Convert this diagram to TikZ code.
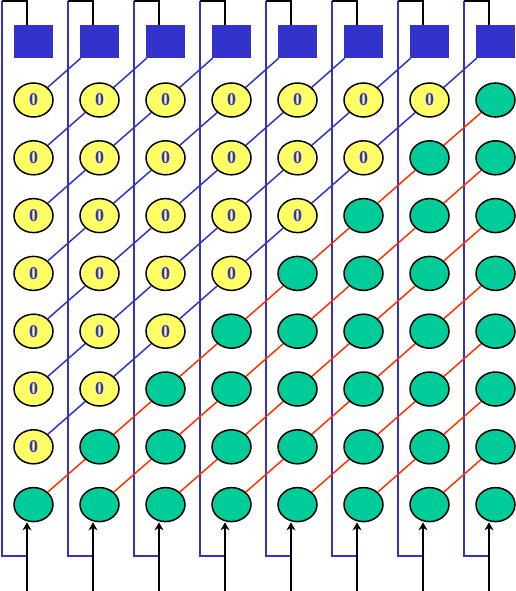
\documentclass[tikz,border=0pt]{standalone}
\usepackage{fontspec}
\setmainfont{Liberation Serif}
\usetikzlibrary{shapes.geometric,arrows.meta}
\definecolor{bl}{HTML}{3333CC}
\definecolor{yl}{HTML}{FFFF66}
\definecolor{gr}{HTML}{00CC99}
\definecolor{rd}{HTML}{FF3300}
\begin{document}
\begin{tikzpicture}[x=1pt,y=-1pt,
  boxs/.style={rectangle,fill=bl,minimum width=39pt,minimum height=33pt,inner sep=0pt},
  yel/.style={ellipse,draw=black,line width=1.5pt,fill=yl,minimum width=39pt,minimum height=34pt,inner sep=0pt,
     text=bl,font=\fontsize{18}{18}\selectfont\bfseries},
  grn/.style={ellipse,draw=black,line width=1.5pt,fill=gr,minimum width=39pt,minimum height=34pt,inner sep=0pt},
  bluel/.style={draw=bl,line width=1.5pt},
  redl/.style={draw=rd,line width=1.5pt},
  vline/.style={draw=bl,line width=2pt},
  blk/.style={draw=black,line width=2pt}]
\useasboundingbox (0,0) rectangle (516,591);
\foreach \c in {0,...,7}{
  \pgfmathsetmacro\cx{33.5+66*\c}
  \node[boxs] (n\c x0) at (\cx,41.5) {};
  \foreach \r in {1,...,8}{
    \pgfmathsetmacro\ry{100+57.8*(\r-1)}
    \pgfmathtruncatemacro\s{\r+\c}
    \ifnum\s<8
      \node[yel] (n\c x\r) at (\cx,\ry) {0};
    \else
      \node[grn] (n\c x\r) at (\cx,\ry) {};
    \fi
  }
}
% vertical feedback lines, top black links, bottom arrows
\foreach \c in {0,...,7}{
  \pgfmathsetmacro\bx{2+66*\c}
  \pgfmathsetmacro\kx{27+66*\c}
  \coordinate (t\c) at (\bx,1);
  \coordinate (k\c) at (\kx,1);
  \coordinate (u\c) at (\bx,556);
  \coordinate (v\c) at (\kx,556);
  \coordinate (in\c) at (\kx,591);
  \draw[vline] (t\c) -- (u\c) -- (v\c);
  \draw[blk] (n\c x0.north -| k\c) -- (k\c) -- (t\c);
  \draw[blk,-{Stealth[length=8pt,width=9pt]}] (in\c) -- (in\c |- n\c x8.south);
}
% diagonal links
\foreach \c in {0,...,6}{
  \pgfmathtruncatemacro\d{\c+1}
  \foreach \r in {1,...,8}{
    \pgfmathtruncatemacro\q{\r-1}
    \pgfmathtruncatemacro\s{\r+\c}
    \ifnum\s<8
      \draw[bluel] (n\c x\r) -- (n\d x\q);
    \else
      \draw[redl] (n\c x\r) -- (n\d x\q);
    \fi
  }
}
\end{tikzpicture}
\end{document}
